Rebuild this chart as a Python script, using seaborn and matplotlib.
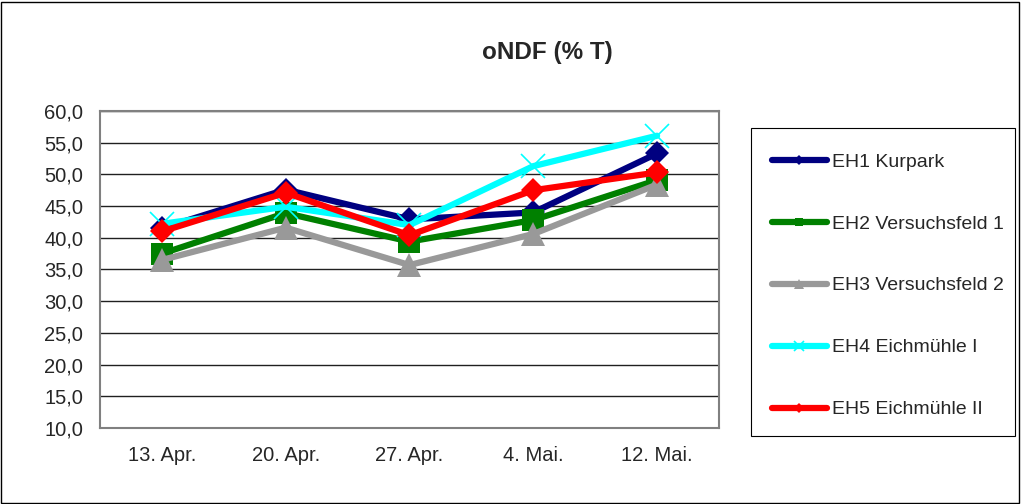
import pandas as pd
import numpy as np
import matplotlib
matplotlib.use("Agg")
import matplotlib.pyplot as plt
import seaborn as sns
from matplotlib.ticker import FuncFormatter, FixedLocator
from matplotlib.patches import Rectangle

dates = ['13. Apr.', '20. Apr.', '27. Apr.', '4. Mai.', '12. Mai.']
eh1 = [41.5, 47.6, 42.9, 44.0, 53.3]
eh2 = [37.5, 43.9, 39.4, 42.8, 49.1]
eh3 = [36.5, 41.6, 35.7, 40.6, 48.4]
eh4 = [42.2, 44.9, 42.0, 51.3, 56.1]
eh5 = [41.0, 47.1, 40.4, 47.5, 50.3]
names = ['EH1 Kurpark', 'EH2 Versuchsfeld 1', 'EH3 Versuchsfeld 2',
         'EH4 Eichmühle I', 'EH5 Eichmühle II']

df = pd.DataFrame({'datum': dates * 5,
                   'pos': list(range(len(dates))) * 5,
                   'wert': eh1 + eh2 + eh3 + eh4 + eh5,
                   'serie': [n for n in names for _ in dates]})

colors = ['#000080', '#008000', '#999999', '#00FFFF', '#FF0000']
markers = ['D', 's', '^', 'x', 'D']
msizes = [12.5, 16, 17, 17, 12.5]

sns.set_style('white')
plt.rcParams['font.family'] = ['Liberation Sans', 'DejaVu Sans']

fig = plt.figure(figsize=(10.21, 5.04), dpi=100)
ax = fig.add_axes([0.0979, 0.1508, 0.6063, 0.629])

for name, c, m, ms in zip(names, colors, markers, msizes):
    sub = df[df['serie'] == name]
    sns.lineplot(data=sub, x='pos', y='wert', ax=ax, color=c, marker=m,
                 linewidth=4.5, markersize=ms,
                 markeredgewidth=1.2 if m == 'x' else 0,
                 markeredgecolor=c, label=name)

ax.set_xlim(-0.5, len(dates) - 0.5)
ax.set_ylim(10, 60)
ax.set_yticks(np.arange(10, 61, 5))
ax.yaxis.set_major_formatter(FuncFormatter(lambda v, p: f'{v:.1f}'.replace('.', ',')))
ax.xaxis.set_major_locator(FixedLocator(np.arange(-0.5, len(dates), 1)))
ax.xaxis.set_major_formatter(FuncFormatter(lambda v, p: ''))
ax.xaxis.set_minor_locator(FixedLocator(range(len(dates))))
ax.set_xticklabels(dates, minor=True)
ax.tick_params(axis='x', which='minor', length=0, pad=13, labelsize=14.5)
ax.tick_params(axis='x', which='major', length=5, direction='out', color='#808080', width=1)
ax.tick_params(axis='y', length=5, direction='out', color='#808080', width=1,
               labelsize=14.5, pad=7)
ax.set_xlabel('')
ax.set_ylabel('')
ax.grid(axis='y', color='#202020', linewidth=1)
ax.set_axisbelow(True)
for s in ax.spines.values():
    s.set_color('#808080')
    s.set_linewidth(1.5)

ax.get_legend().remove()
handles, labels = ax.get_legend_handles_labels()
leg = fig.legend(handles, labels, loc='upper left', bbox_to_anchor=(0.7558, 0.6965),
                 frameon=False, fontsize=14, labelspacing=2.28, handlelength=2.83,
                 handletextpad=0.26, borderpad=0, markerscale=0.4, borderaxespad=0)
fig.patches.append(Rectangle((0.7356, 0.135), 0.2585, 0.611, transform=fig.transFigure,
                             fill=False, edgecolor='black', linewidth=0.8))

fig.text(0.536, 0.896, 'oNDF (% T)', ha='center', va='center',
         fontsize=17.5, fontweight='bold')
fig.patches.append(Rectangle((0.001, 0.001), 0.997, 0.996, transform=fig.transFigure,
                             fill=False, edgecolor='black', linewidth=1))

fig.savefig('out.png', dpi=100)
